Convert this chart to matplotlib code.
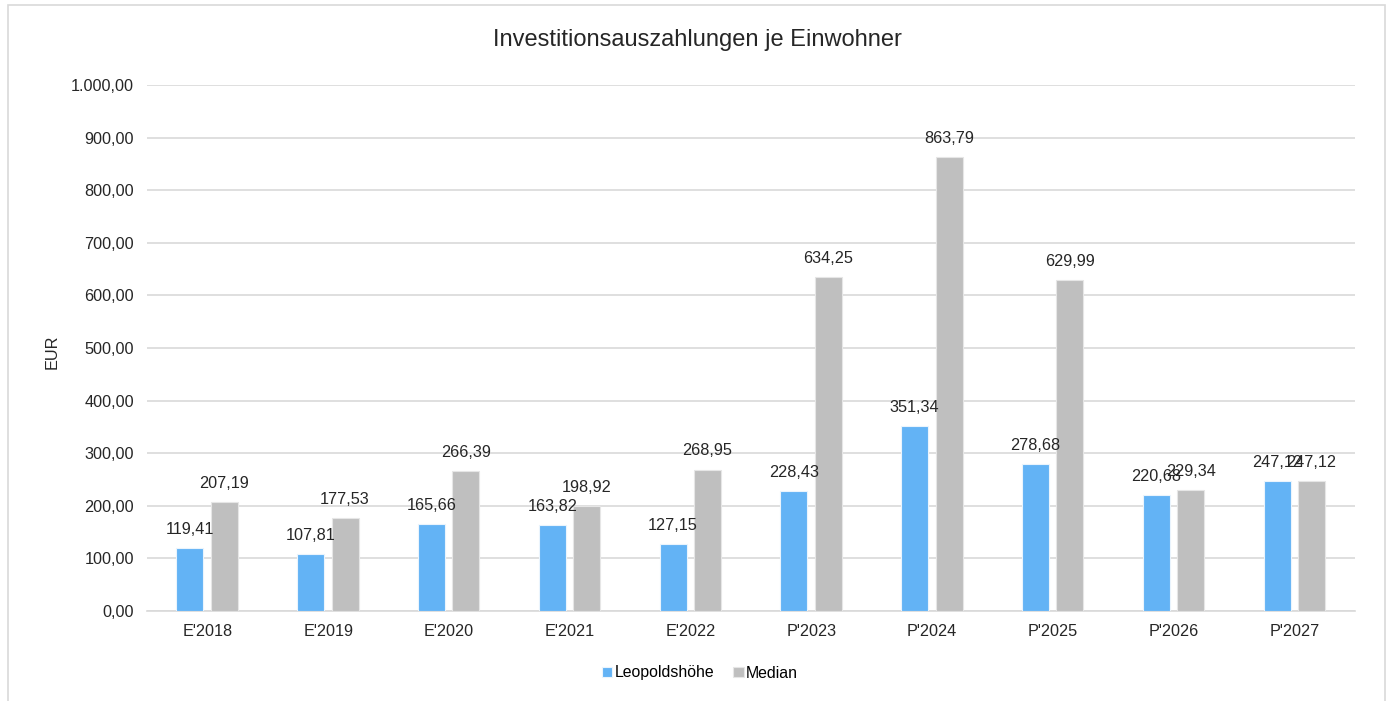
import matplotlib.pyplot as plt
import numpy as np
from matplotlib.patches import Rectangle

plt.rcParams['font.family'] = ['Liberation Sans', 'DejaVu Sans']

categories = ["E'2018", "E'2019", "E'2020", "E'2021", "E'2022",
              "P'2023", "P'2024", "P'2025", "P'2026", "P'2027"]
leopoldshoehe = [119.41, 107.81, 165.66, 163.82, 127.15, 228.43, 351.34, 278.68, 220.68, 247.12]
median = [207.19, 177.53, 266.39, 198.92, 268.95, 634.25, 863.79, 629.99, 229.34, 247.12]


def de_fmt(v):
    s = f"{v:,.2f}"
    return s.replace(",", "X").replace(".", ",").replace("X", ".")


fs = 11.7
fig = plt.figure(figsize=(13.87, 7.01), dpi=100)
ax = fig.add_axes([147 / 1387, 1 - 611 / 701, 1208 / 1387, 526 / 701])

x = np.arange(len(categories))
w = 0.224
b1 = ax.bar(x - 0.145, leopoldshoehe, w, color='#63B3F5', edgecolor='#EAF4FD', linewidth=0.8,
            label='Leopoldshöhe', zorder=3)
b2 = ax.bar(x + 0.14, median, w, color='#BFBFBF', edgecolor='#E6E6E6', linewidth=0.8,
            label='Median', zorder=3)

for bars, vals in ((b1, leopoldshoehe), (b2, median)):
    for r, v in zip(bars, vals):
        ax.annotate(de_fmt(v), (r.get_x() + r.get_width() / 2, v), xytext=(0, 8),
                    textcoords='offset points', ha='center', va='bottom', fontsize=fs,
                    color='#262626')

ax.set_xlim(-0.5, len(categories) - 0.5)
ax.set_ylim(0, 1000)
ax.set_yticks(np.arange(0, 1001, 100))
ax.set_yticklabels([de_fmt(t) for t in np.arange(0, 1001, 100)])
ax.set_xticks(x)
ax.set_xticklabels(categories)
ax.tick_params(axis='both', length=0, labelsize=fs, colors='#262626')
ax.tick_params(axis='y', pad=9.5)
ax.tick_params(axis='x', pad=9)
ax.grid(axis='y', color='#D9D9D9', linewidth=1.2, zorder=0)
for s in ('top', 'right', 'left'):
    ax.spines[s].set_visible(False)
ax.spines['bottom'].set_color('#D9D9D9')
ax.spines['bottom'].set_linewidth(1.2)

fig.text(52 / 1387, 1 - 352 / 701, 'EUR', rotation=90, ha='center', va='center',
         fontsize=fs, color='#262626')

fig.text(697 / 1387, 1 - 40 / 701, 'Investitionsauszahlungen je Einwohner', ha='center',
         va='center', fontsize=17, color='#262626')

fig.legend(handles=[b1, b2], loc='center', bbox_to_anchor=(700 / 1387, 1 - 673 / 701), ncol=2,
           frameon=False, fontsize=11.4, handlelength=0.65, handleheight=0.65, handletextpad=0.15,
           columnspacing=1.2)

fig.patches.append(Rectangle((8 / 1387, -0.01), 1377 / 1387, 1 - 5 / 701 + 0.01,
                             transform=fig.transFigure, fill=False, edgecolor='#D9D9D9',
                             linewidth=1.2))

fig.savefig('out.png', dpi=100, facecolor='white')
